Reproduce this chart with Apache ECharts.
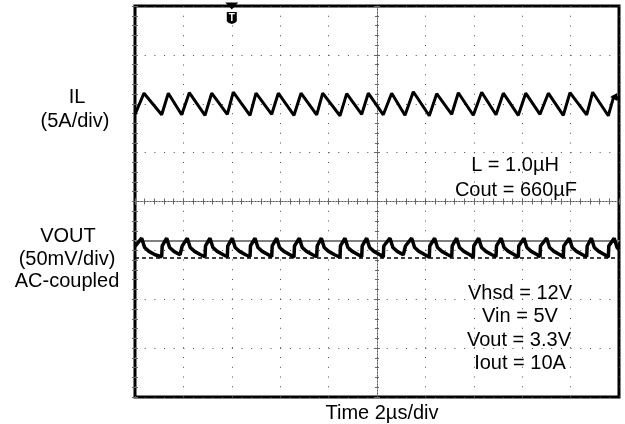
<!DOCTYPE html>
<html><head><meta charset="utf-8">
<script src="https://cdn.jsdelivr.net/npm/echarts@6/dist/echarts.min.js"></script>
<style>html,body{margin:0;padding:0;background:#fff}#c{width:625px;height:424px}</style>
</head><body><div id="c"></div>
<script>
// Time axis (µs), 2 µs/div, 10 divisions
var timeTicks = [0, 2, 4, 6, 8, 10, 12, 14, 16, 18, 20];
// Inductor current IL (A), 5 A/div, vertices of the triangle ripple [t µs, A]
var ilData = [
 [0,8.9],[0.372,11.08],[1.103,8.87],[1.376,11.08],[1.930,8.87],[2.244,11.13],[2.893,8.82],[3.169,11.08],
 [3.814,8.92],[4.062,11.18],[4.752,8.82],[5.000,11.08],[5.649,8.92],[5.921,11.08],[6.570,8.82],[6.860,11.08],
 [7.508,8.87],[7.756,11.08],[8.471,8.77],[8.748,11.03],[9.368,8.92],[9.640,11.08],[10.260,8.87],[10.607,11.08],
 [11.157,8.82],[11.500,11.23],[12.161,8.77],[12.467,11.03],[13.087,8.92],[13.360,11.13],[13.979,8.82],[14.326,11.18],
 [14.917,8.87],[15.219,11.08],[15.839,8.82],[16.145,11.08],[16.736,8.92],[17.079,11.08],[17.698,8.82],[17.975,11.13],
 [18.665,8.87],[18.913,11.18],[19.558,8.77],[19.790,10.8],[20,10.5]
];
// Output voltage ripple VOUT (mV, screen position), 50 mV/div, AC-coupled
var voutData = [
 [0,-46],[0.277,-37.5],[0.397,-47],[0.577,-51],[0.827,-54.5],
 [1.103,-56.5],[1.123,-45.5],[1.310,-37.5],[1.430,-47],[1.610,-51],[1.860,-54.5],
 [1.930,-56.5],[1.950,-45.5],[2.161,-37.5],[2.281,-47],[2.461,-51],[2.711,-54.5],
 [2.893,-56.5],[2.913,-45.5],[3.099,-37.5],[3.219,-47],[3.399,-51],[3.649,-54.5],
 [3.814,-56.5],[3.834,-45.5],[4.020,-37.5],[4.140,-47],[4.320,-51],[4.570,-54.5],
 [4.752,-56.5],[4.772,-45.5],[4.960,-37.5],[5.080,-47],[5.260,-51],[5.510,-54.5],
 [5.649,-56.5],[5.669,-45.5],[5.855,-37.5],[5.975,-47],[6.155,-51],[6.405,-54.5],
 [6.570,-57],[6.590,-45.5],[6.790,-37.5],[6.910,-47],[7.090,-51],[7.340,-54.5],
 [7.508,-56.5],[7.528,-45.5],[7.700,-37.5],[7.820,-47],[8.000,-51],[8.250,-54.5],
 [8.471,-57],[8.491,-45.5],[8.678,-37.5],[8.798,-47],[8.978,-51],[9.228,-54.5],
 [9.368,-56.5],[9.388,-45.5],[9.574,-37.5],[9.694,-47],[9.874,-51],[10.124,-54.5],
 [10.260,-57],[10.280,-45.5],[10.537,-37.5],[10.657,-47],[10.837,-51],[11.087,-54.5],
 [11.157,-56.5],[11.177,-45.5],[11.434,-37.5],[11.554,-47],[11.734,-51],[11.984,-54.5],
 [12.161,-57],[12.181,-45.5],[12.380,-37.5],[12.500,-47],[12.680,-51],[12.930,-54.5],
 [13.087,-56.5],[13.107,-45.5],[13.290,-37.5],[13.410,-47],[13.590,-51],[13.840,-54.5],
 [13.979,-57],[13.999,-45.5],[14.200,-37.5],[14.320,-47],[14.500,-51],[14.750,-54.5],
 [14.917,-56.5],[14.937,-45.5],[15.130,-37.5],[15.250,-47],[15.430,-51],[15.680,-54.5],
 [15.839,-57],[15.859,-45.5],[16.074,-37.5],[16.194,-47],[16.374,-51],[16.624,-54.5],
 [16.736,-56.5],[16.756,-45.5],[17.012,-37.5],[17.132,-47],[17.312,-51],[17.562,-54.5],
 [17.698,-57],[17.718,-45.5],[17.946,-37.5],[18.066,-47],[18.246,-51],[18.496,-54.5],
 [18.665,-56.5],[18.685,-45.5],[18.860,-37.5],[18.980,-47],[19.160,-51],[19.410,-54.5],
 [19.558,-57],[19.578,-45.5],[19.800,-37.5],[19.920,-47],[20,-49]
];
// Cursor levels on VOUT (mV)
var voutCursorTop = -40;
var voutCursorBottom = -58;
// Trigger position (µs)
var triggerTime = 4;
// Annotation texts
var leftLabels = ['IL', '(5A/div)', 'VOUT', '(50mV/div)', 'AC-coupled'];
var rightLabels = ['L = 1.0\u00b5H', 'Cout = 660\u00b5F', 'Vhsd = 12V', 'Vin = 5V', 'Vout = 3.3V', 'Iout = 10A'];
var xTitle = 'Time 2\u00b5s/div';

var FONT = "'Liberation Sans', Arial, sans-serif";
var gridRect = {left: 135, top: 6, right: 6, bottom: 27};
var dotColor = '#4a4a4a';
var tickColor = '#666';

function edgeAxis(extra) {
  return Object.assign({
    type: 'value', axisLine: {show: false},
    axisTick: {show: true, inside: true, length: 3, lineStyle: {color: tickColor}},
    minorTick: {show: true, splitNumber: 5, length: 3, lineStyle: {color: tickColor}},
    axisLabel: {show: false}, splitLine: {show: false}
  }, extra);
}
function centerAxis(extra, inside) {
  return Object.assign({
    type: 'value',
    axisLine: {show: true, onZero: true, lineStyle: {color: '#555', width: 1, type: [1, 2]}},
    axisTick: {show: true, inside: inside, length: 3, lineStyle: {color: tickColor}},
    minorTick: {show: true, splitNumber: 5, length: 2, lineStyle: {color: tickColor}},
    axisLabel: {show: false}, splitLine: {show: false}
  }, extra);
}

var g = [];
var lefts = [[77, 97], [75, 121], [68, 236], [67, 259], [67, 281]];
leftLabels.forEach(function (t, i) {
  g.push({type: 'text', x: lefts[i][0], y: lefts[i][1], style: {text: t, font: '20px ' + FONT, fill: '#000', textAlign: 'center', textVerticalAlign: 'middle'}});
});
var rights = [[515, 165], [516, 190], [520, 293], [520, 316], [519, 340], [520, 363]];
rightLabels.forEach(function (t, i) {
  g.push({type: 'text', x: rights[i][0], y: rights[i][1], z: 10, style: {text: t, font: '20px ' + FONT, fill: '#000', textAlign: 'center', textVerticalAlign: 'middle'}});
});
g.push({type: 'text', x: 382, y: 413, style: {text: xTitle, font: '20px ' + FONT, fill: '#000', textAlign: 'center', textVerticalAlign: 'middle'}});

var option = {
  animation: false,
  backgroundColor: '#fff',
  grid: [
    Object.assign({show: true, borderColor: '#000', borderWidth: 3, backgroundColor: '#fff', z: 0}, gridRect),
    Object.assign({}, gridRect),
    Object.assign({}, gridRect)
  ],
  xAxis: [
    edgeAxis({gridIndex: 0, position: 'bottom', min: timeTicks[0], max: timeTicks[timeTicks.length - 1], interval: 2,
      splitLine: {show: true, lineStyle: {color: dotColor, width: 1, type: [1, 8.75]}}}),
    edgeAxis({gridIndex: 0, position: 'top', min: 0, max: 20, interval: 2}),
    centerAxis({gridIndex: 1, min: -10, max: 10, interval: 2}, true),
    centerAxis({gridIndex: 2, min: -10, max: 10, interval: 2}, false)
  ],
  yAxis: [
    edgeAxis({gridIndex: 0, position: 'left', min: -20, max: 20, interval: 5,
      splitLine: {show: true, lineStyle: {color: dotColor, width: 1, type: [1, 8.68]}}}),
    edgeAxis({gridIndex: 0, position: 'right', min: -200, max: 200, interval: 50}),
    centerAxis({gridIndex: 1, min: -4, max: 4, interval: 1}, true),
    centerAxis({gridIndex: 2, min: -4, max: 4, interval: 1}, false)
  ],
  graphic: g,
  series: [
    {
      type: 'line', xAxisIndex: 0, yAxisIndex: 0, data: ilData, showSymbol: false, z: 5,
      lineStyle: {color: '#000', width: 3},
      markPoint: {
        silent: true,
        data: [
          {coord: [triggerTime, 20], symbol: 'triangle', symbolRotate: 180, symbolSize: [13, 7], symbolOffset: [0, 0], itemStyle: {color: '#000'}, label: {show: false}},
          {coord: [triggerTime, 20], symbol: 'path://M0,0 L10,0 L10,9 Q10,12 5,13 Q0,12 0,9 Z', symbolSize: [10, 12], symbolOffset: [0, 12], itemStyle: {color: '#000'},
            label: {show: true, formatter: 'T', color: '#fff', fontWeight: 'bold', fontSize: 10, fontFamily: FONT, position: 'inside', offset: [0, 0]}},
          {coord: [19.78, 10.7], symbol: 'path://M0,5 L7,0 L7,10 Z', symbolSize: [7, 8], itemStyle: {color: '#000'}, label: {show: false}}
        ]
      }
    },
    {
      type: 'line', xAxisIndex: 0, yAxisIndex: 1, data: voutData, showSymbol: false, z: 5,
      lineStyle: {color: '#000', width: 3.5},
      markLine: {
        silent: true, symbol: 'none', label: {show: false},
        data: [
          {yAxis: voutCursorTop, lineStyle: {color: '#808080', width: 2, type: 'solid'}},
          {yAxis: voutCursorBottom, lineStyle: {color: '#000', width: 1.5, type: [4, 3]}}
        ]
      }
    }
  ]
};
var chart = echarts.init(document.getElementById('c'), null, {renderer: 'canvas'});
chart.setOption(option);
</script></body></html>
